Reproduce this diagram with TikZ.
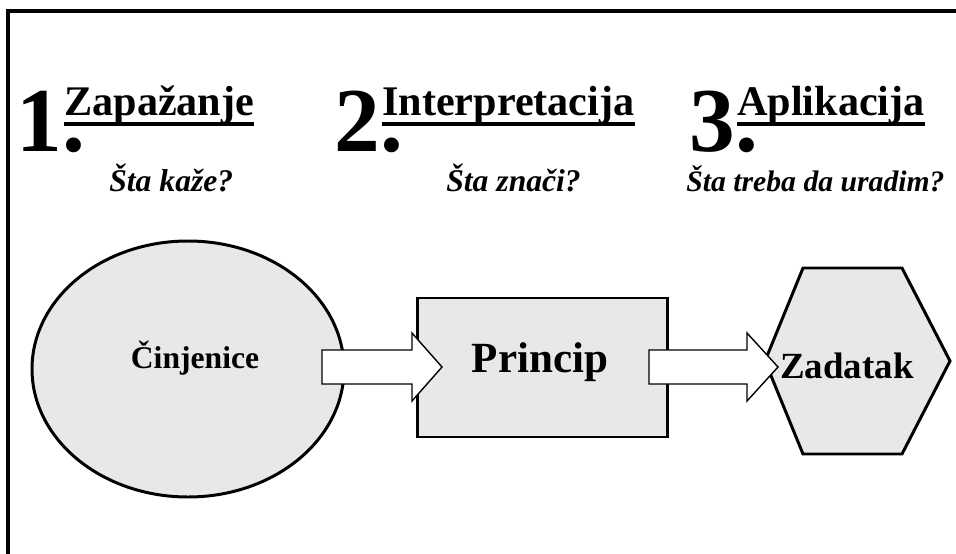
\documentclass[tikz,border=0pt]{standalone}
\usepackage{fontspec}
\setmainfont{Liberation Serif}
\usetikzlibrary{positioning}
\definecolor{shapegray}{RGB}{232,232,232}
\def\blockarrow(#1:#2:#3){\draw[arrowbox] (#1,350) -- (#2,350) -- (#2,333) -- (#3,367) -- (#2,401) -- (#2,384) -- (#1,384) -- cycle;}
\tikzset{
	stepnum/.style={inner sep=0, anchor=base west, font=\fontsize{52}{52}\selectfont\bfseries},
	heading/.style={inner sep=0, anchor=base west, font=\fontsize{24}{28}\selectfont\bfseries},
	question/.style={inner sep=0, anchor=base west, font=\fontsize{#1}{22}\selectfont\bfseries\itshape},
	question/.default=18,
	uline/.style={line width=2.2pt},
	shapebox/.style={draw=black, line width=1.7pt, fill=shapegray},
	arrowbox/.style={draw=black, line width=0.8pt, fill=white, line join=miter},
	label/.style={inner sep=0, anchor=base, font=\fontsize{#1}{#1}\selectfont\bfseries}
}

\begin{document}
\begin{tikzpicture}[x=0.02cm, y=-0.02cm]
		%%%%% START %%%%%
		
		\useasboundingbox (0,0) rectangle (956,554);
		\draw[line width=1.9pt] (8,554) -- (8,11) -- (956,11);
		
		\node[stepnum] (num1) at (16,152) {1.};
		\node[stepnum] (num2) at (334,152) {2.};
		\node[stepnum] (num3) at (689,152) {3.};
		
		\node[heading] (zap) at (64,115) {Zapažanje};
		\node[heading] (inter) at (382,115) {Interpretacija};
		\node[heading] (apl) at (737,115) {Aplikacija};
		\draw[uline] (zap.south west) -- (zap.south east);
		\draw[uline] (inter.south west) -- (inter.south east);
		\draw[uline] (apl.south west) -- (apl.south east);
		
		\node[question] (q1) at (109,191) {Šta kaže?};
		\node[question] (q2) at (446,191) {Šta znači?};
		\node[question=16.9] (q3) at (686,191) {Šta treba da uradim?};
		
		\draw[shapebox] (188,369) ellipse (156 and 128);
		\draw[shapebox] (417,298) rectangle (667,437);
		\draw[shapebox] (765,361) -- (803,268) -- (902,268) -- (950,361) -- (902,454) -- (803,454) -- cycle;
		
		\blockarrow(322:412:442)
		\blockarrow(649:747:778)
		
		\node[label=18] (fact) at (195,368) {Činjenice};
		\node[label=24.5] (prin) at (540,372) {Princip};
		\node[label=21] (task) at (847,378) {Zadatak};
		
		%%%%% END %%%%%
\end{tikzpicture}
\end{document}
